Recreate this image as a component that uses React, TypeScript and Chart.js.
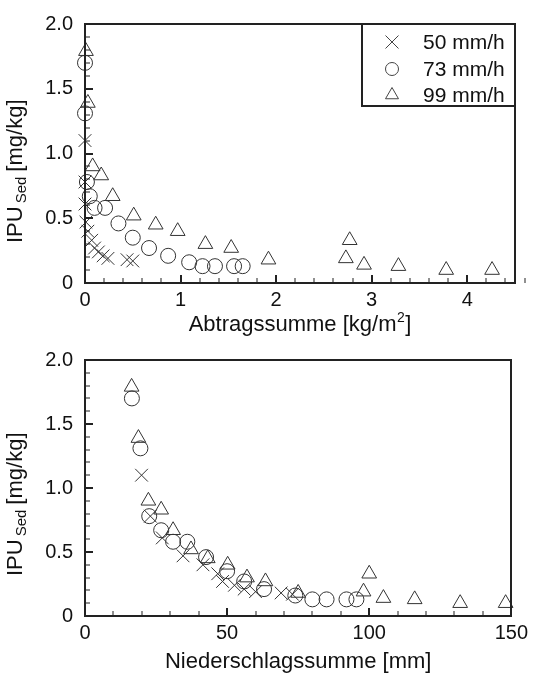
import React, { useEffect, useRef } from 'react';
import { Chart, registerables } from 'chart.js';

Chart.register(...registerables);

const FONT = '"Liberation Sans", Arial, Helvetica, sans-serif';

const seriesLabels = ['50 mm/h', '73 mm/h', '99 mm/h'];
const yTicks = [0, 0.5, 1.0, 1.5, 2.0];
const xTicksTop = [0, 1, 2, 3, 4];
const xTicksBottom = [0, 50, 100, 150];

// 50 mm/h (crosses)
const ipu50 = [1.10, 0.78, 0.61, 0.47, 0.40, 0.33, 0.27, 0.24, 0.21, 0.19, 0.18, 0.17];
const abtrag50 = [0.00, 0.00, 0.00, 0.01, 0.03, 0.07, 0.10, 0.14, 0.19, 0.24, 0.44, 0.50];
const nieder50 = [19.9, 23.0, 27.2, 34.5, 41.5, 46.7, 48.4, 52.6, 56.0, 60.0, 69.0, 73.0];

// 73 mm/h (circles)
const ipu73 = [1.70, 1.31, 0.78, 0.67, 0.58, 0.58, 0.46, 0.35, 0.27, 0.21, 0.16, 0.13, 0.13, 0.13, 0.13];
const abtrag73 = [0.00, 0.00, 0.02, 0.05, 0.10, 0.21, 0.35, 0.50, 0.67, 0.87, 1.09, 1.23, 1.36, 1.56, 1.65];
const nieder73 = [16.5, 19.5, 22.6, 26.8, 31.0, 36.0, 42.6, 50.0, 56.0, 63.0, 74.0, 80.0, 85.0, 92.0, 95.5];

// 99 mm/h (triangles)
const ipu99 = [1.79, 1.39, 0.90, 0.83, 0.67, 0.52, 0.45, 0.40, 0.30, 0.27, 0.18, 0.33, 0.19, 0.14, 0.13, 0.10, 0.10];
const abtrag99 = [0.01, 0.03, 0.08, 0.17, 0.29, 0.51, 0.74, 0.97, 1.26, 1.53, 1.92, 2.77, 2.73, 2.92, 3.28, 3.78, 4.26];
const nieder99 = [16.4, 18.8, 22.3, 26.8, 31.0, 37.3, 43.2, 50.2, 57.0, 63.5, 75.0, 100.0, 98.0, 105.0, 116.0, 132.0, 148.0];

const INK = '#222';

function pts(xs: number[], ys: number[]) {
  return xs.map((x, i) => ({ x, y: ys[i] }));
}

function drawSym(ctx: CanvasRenderingContext2D, kind: number, x: number, y: number) {
  ctx.beginPath();
  if (kind === 0) {
    const d = 6.5;
    ctx.moveTo(x - d, y - d); ctx.lineTo(x + d, y + d);
    ctx.moveTo(x - d, y + d); ctx.lineTo(x + d, y - d);
  } else if (kind === 1) {
    ctx.arc(x, y, 6.5, 0, Math.PI * 2);
  } else {
    const r = 7.5;
    ctx.moveTo(x, y - r);
    ctx.lineTo(x + r * Math.sin((2 * Math.PI) / 3), y - r * Math.cos((2 * Math.PI) / 3));
    ctx.lineTo(x + r * Math.sin((4 * Math.PI) / 3), y - r * Math.cos((4 * Math.PI) / 3));
    ctx.closePath();
  }
  ctx.stroke();
}

const framePlugin = {
  id: 'frame',
  afterDraw(chart: any, _args: any, o: any) {
    const ctx: CanvasRenderingContext2D = chart.ctx;
    const a = chart.chartArea;
    const xs = chart.scales.x;
    const ys = chart.scales.y;
    const L = Math.round(a.left);
    const R = Math.round(a.right);
    const T = Math.round(a.top);
    const B = Math.round(a.bottom);
    ctx.save();
    ctx.globalAlpha = 1;
    ctx.fillStyle = INK;
    // frame
    ctx.fillRect(L - 1, T - 1, R - L + 2, 2);
    ctx.fillRect(L - 1, B - 1, R - L + 2, 2);
    ctx.fillRect(L - 1, T - 1, 2, B - T + 2);
    ctx.fillRect(R - 1, T - 1, 2, B - T + 2);
    // x ticks (inward)
    const nx = Math.round((xs.max - xs.min) / o.xMinor);
    for (let i = 0; i <= nx; i++) {
      const v = xs.min + i * o.xMinor;
      const r = v / o.xMajor;
      const major = Math.abs(r - Math.round(r)) < 1e-6;
      const px = Math.round(xs.getPixelForValue(v));
      const len = major ? 8 : 5;
      ctx.fillRect(px - (major ? 1 : 0.5), B - len, major ? 2 : 1, len);
    }
    const ny = Math.round((ys.max - ys.min) / o.yMinor);
    for (let i = 0; i <= ny; i++) {
      const v = ys.min + i * o.yMinor;
      const r = v / o.yMajor;
      const major = Math.abs(r - Math.round(r)) < 1e-6;
      const py = Math.round(ys.getPixelForValue(v));
      const len = major ? 8 : 5;
      ctx.fillRect(L, py - (major ? 1 : 0.5), len, major ? 2 : 1);
    }

    // y title with subscript
    ctx.fillStyle = '#111';
    ctx.save();
    ctx.translate(22, a.bottom - 40);
    ctx.rotate(-Math.PI / 2);
    ctx.textBaseline = 'alphabetic';
    ctx.textAlign = 'left';
    ctx.font = `22px ${FONT}`;
    ctx.fillText('IPU', 0, 0);
    let off = ctx.measureText('IPU').width + 3;
    ctx.font = `15px ${FONT}`;
    ctx.fillText('Sed', off, 4);
    off += ctx.measureText('Sed').width + 5;
    ctx.font = `22px ${FONT}`;
    ctx.fillText('[mg/kg]', off, 0);
    ctx.restore();

    // x title
    ctx.textBaseline = 'alphabetic';
    ctx.textAlign = 'left';
    const cx = (a.left + a.right) / 2;
    const by = a.bottom + o.titleOffset;
    ctx.font = `22px ${FONT}`;
    const main = o.xTitle as string;
    const sup = o.xSup as string;
    const tail = o.xTail as string;
    const wMain = ctx.measureText(main).width;
    ctx.font = `14px ${FONT}`;
    const wSup = sup ? ctx.measureText(sup).width + 1 : 0;
    ctx.font = `22px ${FONT}`;
    const wTail = tail ? ctx.measureText(tail).width : 0;
    let x0 = cx - (wMain + wSup + wTail) / 2;
    ctx.fillText(main, x0, by);
    x0 += wMain;
    if (sup) {
      ctx.font = `14px ${FONT}`;
      ctx.fillText(sup, x0 + 0.5, by - 9);
      x0 += wSup;
      ctx.font = `22px ${FONT}`;
    }
    if (tail) ctx.fillText(tail, x0, by);

    // legend
    if (o.legend) {
      const LL = R - 153;
      const H = 82;
      ctx.fillStyle = INK;
      ctx.fillRect(LL - 1, T - 1, 2, H + 1);
      ctx.fillRect(LL - 1, T + H - 1, R - LL + 1, 2);
      const rows = [18, 45, 71];
      ctx.font = `21px ${FONT}`;
      ctx.textBaseline = 'middle';
      for (let i = 0; i < 3; i++) {
        ctx.strokeStyle = '#444';
        ctx.lineWidth = 1;
        drawSym(ctx, i, R - 123, T + rows[i]);
        ctx.fillStyle = '#111';
        ctx.fillText(seriesLabels[i], R - 92, T + rows[i] + 1);
      }
    }
    ctx.restore();
  },
};

function makeConfig(p: {
  x50: number[]; x73: number[]; x99: number[];
  xMax: number; xStep: number; xMinor: number; xTicks: number[];
  plotTop: number; axisH: number; titleOffset: number;
  xTitle: string; xSup: string; xTail: string; legend: boolean;
}): any {
  const common = { showLine: false, clip: false, borderWidth: 1, backgroundColor: 'rgba(0,0,0,0)', borderColor: '#333' };
  return {
    type: 'scatter',
    data: {
      datasets: [
        { ...common, label: seriesLabels[0], data: pts(p.x50, ipu50), pointStyle: 'crossRot', pointRadius: 9 },
        { ...common, label: seriesLabels[1], data: pts(p.x73, ipu73), pointStyle: 'circle', pointRadius: 7.5 },
        { ...common, label: seriesLabels[2], data: pts(p.x99, ipu99), pointStyle: 'triangle', pointRadius: 8.5 },
      ],
    },
    options: {
      responsive: false,
      animation: false,
      devicePixelRatio: 1,
      events: [],
      layout: { padding: { left: 0, right: 18, top: p.plotTop, bottom: 0 } },
      plugins: {
        legend: { display: false },
        tooltip: { enabled: false },
        frame: {
          xMinor: p.xMinor, xMajor: p.xStep, yMinor: 0.1, yMajor: 0.5,
          titleOffset: p.titleOffset, xTitle: p.xTitle, xSup: p.xSup, xTail: p.xTail, legend: p.legend,
        },
      },
      scales: {
        x: {
          type: 'linear',
          min: 0,
          max: p.xMax,
          grid: { display: false, drawTicks: false },
          border: { display: false },
          afterFit: (s: any) => { s.height = p.axisH; },
          afterBuildTicks: (s: any) => { s.ticks = p.xTicks.map((v) => ({ value: v })); },
          ticks: {
            padding: 5,
            color: '#111',
            font: { family: FONT, size: 20 },
            maxRotation: 0,
            callback: (v: number) => String(v),
          },
        },
        y: {
          type: 'linear',
          min: 0,
          max: 2,
          grid: { display: false, drawTicks: false },
          border: { display: false },
          afterFit: (s: any) => { s.width = 85; },
          afterBuildTicks: (s: any) => { s.ticks = yTicks.map((v) => ({ value: v })); },
          ticks: {
            padding: 12,
            color: '#111',
            font: { family: FONT, size: 20 },
            callback: (v: number) => (v === 0 ? '0' : Number(v).toFixed(1)),
          },
        },
      },
    },
    plugins: [framePlugin],
  };
}

export default function App() {
  const topRef = useRef<HTMLCanvasElement>(null);
  const botRef = useRef<HTMLCanvasElement>(null);

  useEffect(() => {
    const c1 = new Chart(topRef.current as HTMLCanvasElement, makeConfig({
      x50: abtrag50, x73: abtrag73, x99: abtrag99,
      xMax: 4.5, xStep: 1, xMinor: 0.2, xTicks: xTicksTop,
      plotTop: 15, axisH: 55, titleOffset: 48,
      xTitle: 'Abtragssumme [kg/m', xSup: '2', xTail: ']', legend: true,
    }));
    const c2 = new Chart(botRef.current as HTMLCanvasElement, makeConfig({
      x50: nieder50, x73: nieder73, x99: nieder99,
      xMax: 150, xStep: 50, xMinor: 10, xTicks: xTicksBottom,
      plotTop: 13, axisH: 60, titleOffset: 52,
      xTitle: 'Niederschlagssumme [mm]', xSup: '', xTail: '', legend: false,
    }));
    return () => { c1.destroy(); c2.destroy(); };
  }, []);

  return (
    <div style={{ position: 'absolute', left: 0, top: 0, width: 533, height: 676, background: '#fff' }}>
      <canvas ref={topRef} width={533} height={338} style={{ position: 'absolute', left: 0, top: 0, width: 533, height: 338 }} />
      <canvas ref={botRef} width={533} height={340} style={{ position: 'absolute', left: 0, top: 336, width: 533, height: 340 }} />
    </div>
  );
}
